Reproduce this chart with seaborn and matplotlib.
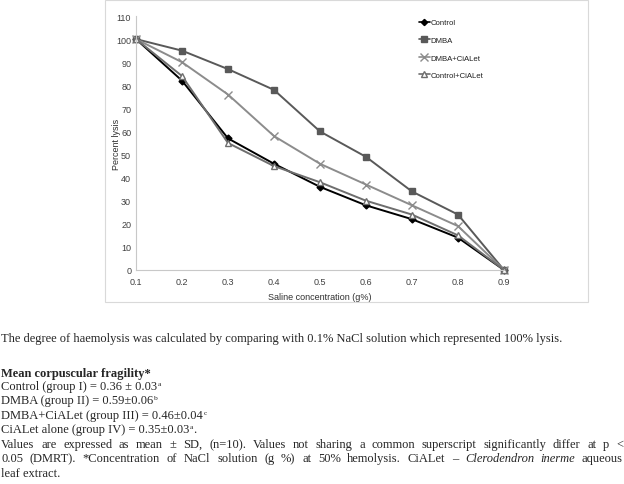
import pandas as pd
import seaborn as sns
import matplotlib
matplotlib.use("Agg")
import matplotlib.pyplot as plt
from matplotlib.patches import Rectangle

# data
saline = [0.1, 0.2, 0.3, 0.4, 0.5, 0.6, 0.7, 0.8, 0.9]
control = [100, 82, 57, 46, 36, 28, 22, 14, 0]
dmba = [100, 95, 87, 78, 60, 49, 34, 24, 0]
dmba_cialet = [100, 90, 76, 58, 46, 37, 28, 19, 0]
control_cialet = [100, 84, 55, 45, 38, 30, 24, 15, 0]
groups = ["Control", "DMBA", "DMBA+CiALet", "Control+CiALet"]
x_ticks = [0.1, 0.2, 0.3, 0.4, 0.5, 0.6, 0.7, 0.8, 0.9]
y_ticks = [0, 10, 20, 30, 40, 50, 60, 70, 80, 90, 100, 110]

df = pd.DataFrame({
    "saline": saline * 4,
    "lysis": control + dmba + dmba_cialet + control_cialet,
    "group": [g for g in groups for _ in saline],
})

sns.set_style("white")
plt.rcParams["font.family"] = ["Liberation Sans", "DejaVu Sans"]

fig = plt.figure(figsize=(6.24, 4.85), dpi=100)
# chart box
fig.patches.append(Rectangle((105 / 624, 1 - 303 / 485), 483 / 624, 302 / 485,
                             transform=fig.transFigure, fill=False,
                             edgecolor="#d9d9d9", linewidth=0.8))

ax = fig.add_axes([136 / 624, 1 - 271 / 485, 368 / 624, 254 / 485])
colors = {"Control": "#000000", "DMBA": "#595959",
          "DMBA+CiALet": "#8c8c8c", "Control+CiALet": "#6e6e6e"}
markers = {"Control": "D", "DMBA": "s", "DMBA+CiALet": "x", "Control+CiALet": "^"}
msizes = {"Control": 3.5, "DMBA": 4.5, "DMBA+CiALet": 6, "Control+CiALet": 4.5}
for g in groups:
    kw = dict(markerfacecolor="white") if g == "Control+CiALet" else {}
    sns.lineplot(data=df[df["group"] == g], x="saline", y="lysis", color=colors[g],
                 marker=markers[g], markersize=msizes[g], markeredgecolor=colors[g],
                 markeredgewidth=1, linewidth=1.4, ax=ax, label=g, legend=False, **kw)

ax.set_xlim(0.1, 0.9)
ax.set_ylim(0, 110)
ax.set_xticks(x_ticks)
ax.set_xticklabels([f"{v:.1f}" for v in x_ticks])
ax.set_yticks(y_ticks)
for s in ["top", "right"]:
    ax.spines[s].set_visible(False)
for s in ["left", "bottom"]:
    ax.spines[s].set_color("#c8c8c8")
    ax.spines[s].set_linewidth(0.8)
ax.tick_params(axis="both", direction="out", length=3, width=0.6,
               color="#c8c8c8", labelsize=6.5, labelcolor="#404040", pad=2)
ax.tick_params(axis="y", pad=0.5)
ax.set_xlabel("Saline concentration (g%)", fontsize=6.5, color="#303030", labelpad=4)
ax.set_ylabel("Percent lysis", fontsize=6.5, color="#303030")
ax.yaxis.set_label_coords(-0.04, 0.5)
for l in ax.lines:
    l.set_clip_on(False)

# legend
handles = [plt.Line2D([], [], color=l.get_color(), marker=l.get_marker(),
                      markersize=l.get_markersize() * 0.9,
                      markerfacecolor=l.get_markerfacecolor(),
                      markeredgecolor=l.get_markeredgecolor(),
                      markeredgewidth=l.get_markeredgewidth(), linewidth=1.2)
           for l in ax.lines[:4]]
fig.legend(handles, groups, loc="upper left", bbox_to_anchor=(412 / 624, 1 - 13 / 485),
           frameon=False, fontsize=5.6, handlelength=1.4, handletextpad=0.1,
           labelspacing=1.3, labelcolor="#202020")

# text below the chart
serif = ["Liberation Serif", "DejaVu Serif"]
fs = 9.0
fig.canvas.draw()
renderer = fig.canvas.get_renderer()


def px(x, y):
    return x / 624, 1 - y / 485


def put(s, x, y, size=fs, **kw):
    t = fig.text(*px(x, y), s, family=serif, fontsize=size, va="baseline", ha="left", **kw)
    return x + t.get_window_extent(renderer).width


def justify(words, y, x0, x1):
    # words: list of (text, style)
    objs = []
    for w, st in words:
        t = fig.text(0, 0, w, family=serif, fontsize=fs, fontstyle=st,
                     va="baseline", ha="left")
        objs.append(t)
    widths = [t.get_window_extent(renderer).width for t in objs]
    gap = (x1 - x0 - sum(widths)) / (len(objs) - 1)
    x = x0
    for t, w in zip(objs, widths):
        t.set_position(px(x, y))
        x += w + gap


put("The degree of haemolysis was calculated by comparing with 0.1% NaCl solution which represented 100% lysis.", 1, 342)
put("Mean corpuscular fragility*", 1, 377, fontweight="bold")
groups_txt = [
    (390, "Control (group I) = 0.36 ± 0.03", "a", ""),
    (404, "DMBA (group II) = 0.59±0.06", "b", ""),
    (419, "DMBA+CiALet (group III) = 0.46±0.04", "c", ""),
    (433, "CiALet alone (group IV) = 0.35±0.03", "a", "."),
]
for y, s, sup, tail in groups_txt:
    x = put(s, 1, y)
    x2 = put(sup, x + 0.5, y - 4, size=fs * 0.6)
    if tail:
        put(tail, x2, y)
put("leaf extract.", 1, 477)

l1 = "Values are expressed as mean ± SD, (n=10).  Values not sharing a common superscript significantly differ at p <"
justify([(w, "normal") for w in l1.split()], 448, 1, 623)
l2 = [(w, "normal") for w in "0.05 (DMRT). *Concentration of NaCl solution (g %) at 50% hemolysis. CiALet –".split()]
l2 += [("Clerodendron", "italic"), ("inerme", "italic"), ("aqueous", "normal")]
justify(l2, 462, 1, 623)

fig.savefig("out.png", dpi=100)
